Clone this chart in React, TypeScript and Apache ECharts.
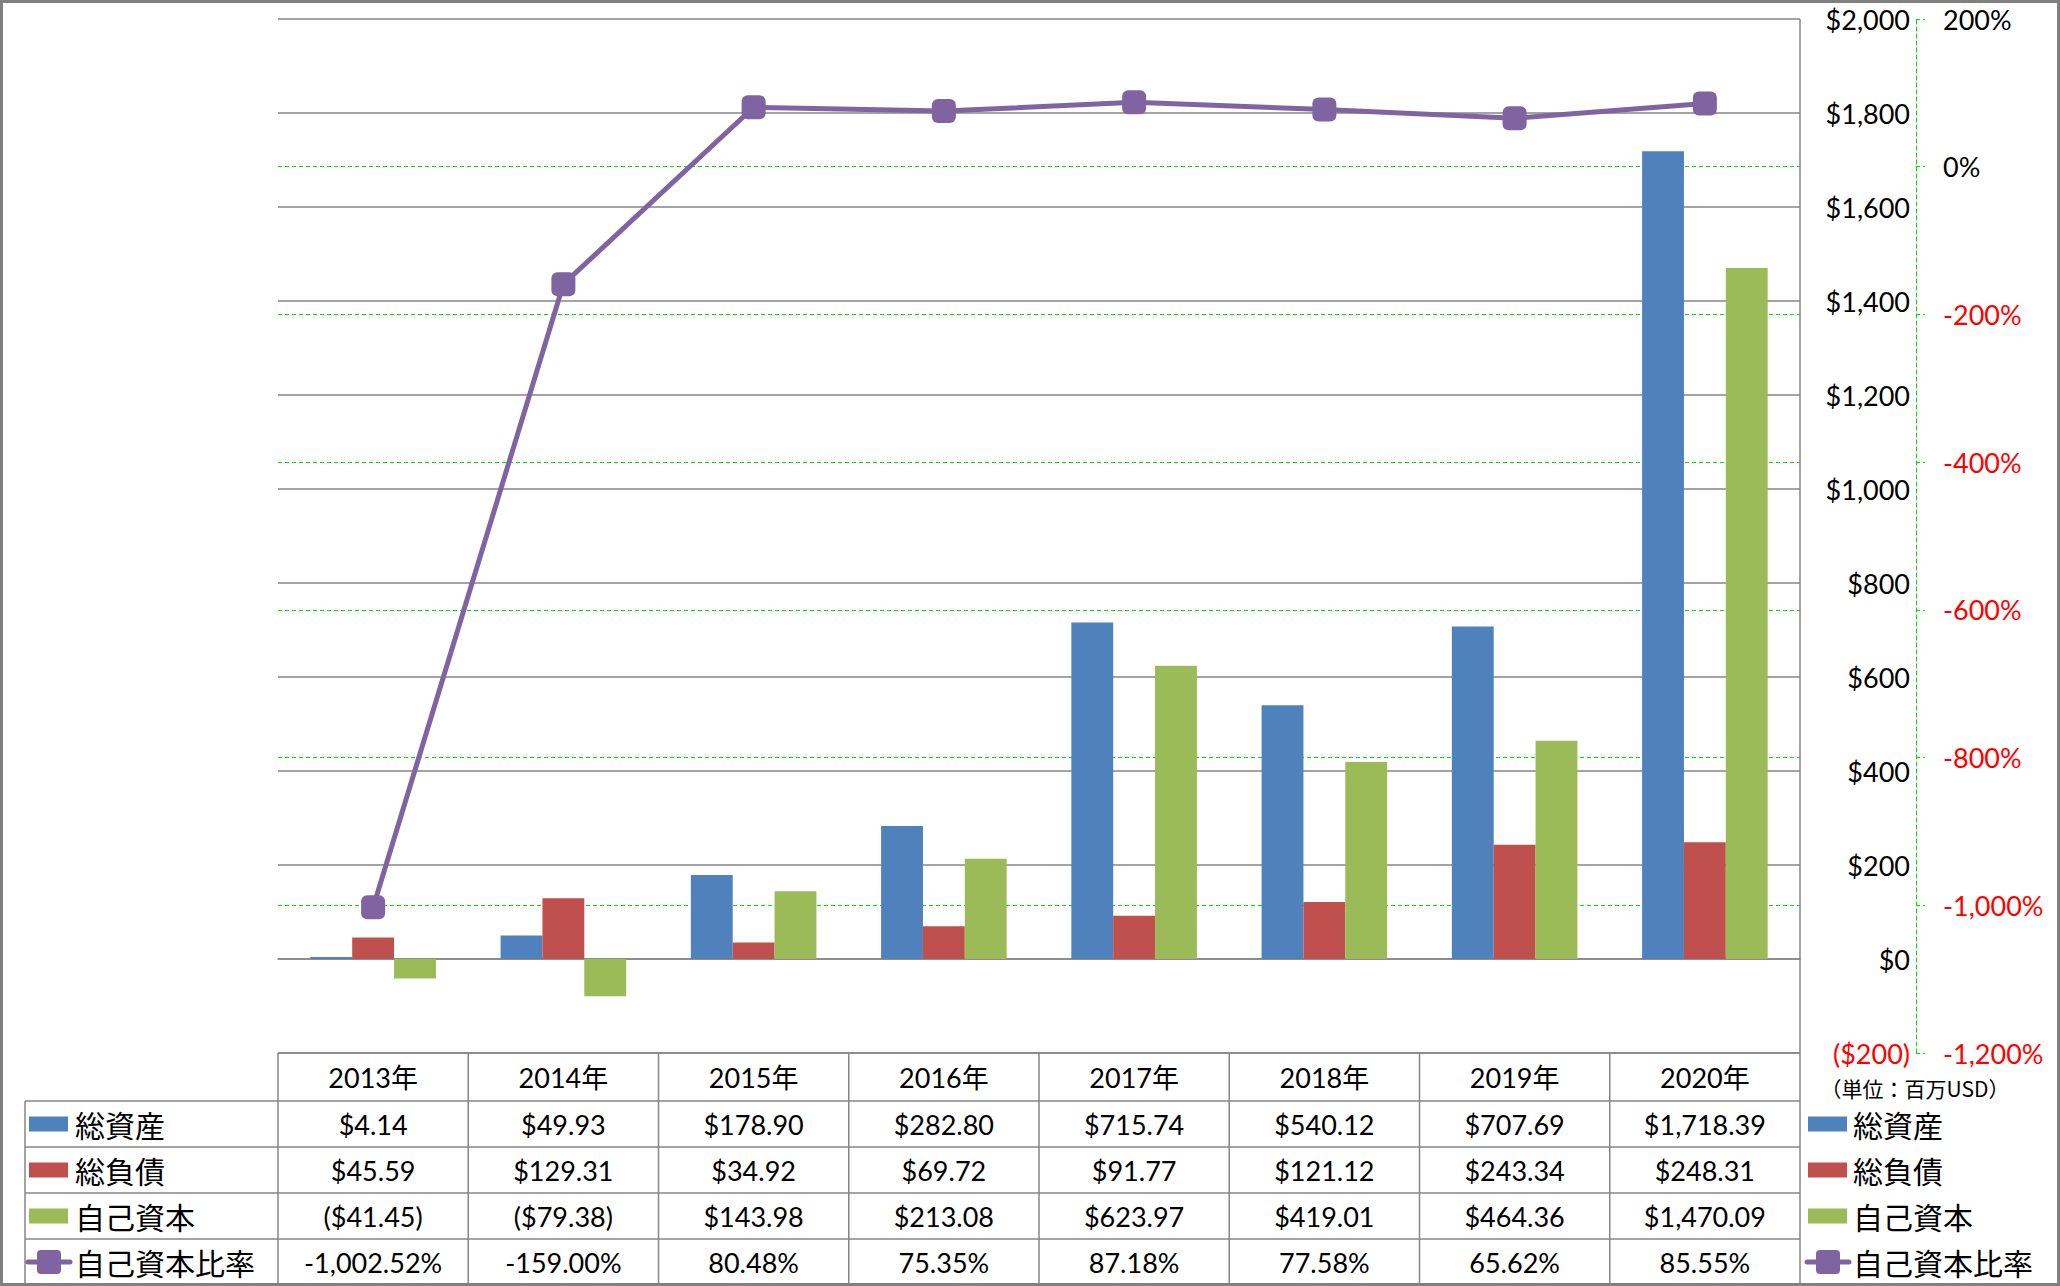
import React, { useEffect, useRef } from "react";
import * as echarts from "echarts";

const years = ["2013年", "2014年", "2015年", "2016年", "2017年", "2018年", "2019年", "2020年"];
const totalAssets = [4.14, 49.93, 178.9, 282.8, 715.74, 540.12, 707.69, 1718.39];
const totalLiabilities = [45.59, 129.31, 34.92, 69.72, 91.77, 121.12, 243.34, 248.31];
const equity = [-41.45, -79.38, 143.98, 213.08, 623.97, 419.01, 464.36, 1470.09];
const equityRatio = [-1002.52, -159.0, 80.48, 75.35, 87.18, 77.58, 65.62, 85.55];
const seriesNames = ["総資産", "総負債", "自己資本", "自己資本比率"];
const unitLabel = "（単位：百万USD）";

const W = 2060;
const H = 1286;
const GRID_LEFT = 278;
const GRID_RIGHT_X = 1800;
const GRID_TOP = 19;
const GRID_BOTTOM_Y = 1053;
const ROW_Y = [1053, 1101, 1147, 1193, 1239, 1285];
const TABLE_LEFT = 25;

const BLUE = "#4F81BD";
const RED = "#C0504D";
const GREEN = "#9BBB59";
const PURPLE = "#8064A2";
const GRID_GRAY = "#868686";
const DASH_GREEN = "#00E000";
const NUM_FONT = "Lato, 'Noto Sans CJK JP', sans-serif";
const CJK_FONT = "'Noto Sans CJK JP', sans-serif";

const fmtNum = (v: number, digits: number) =>
  Math.abs(v).toLocaleString("en-US", { minimumFractionDigits: digits, maximumFractionDigits: digits });
const fmtMoney = (v: number) => (v < 0 ? `($${fmtNum(v, 2)})` : `$${fmtNum(v, 2)}`);
const fmtPct = (v: number) => `${v < 0 ? "-" : ""}${fmtNum(v, 2)}%`;

export default function App() {
  const ref = useRef<HTMLDivElement>(null);
  useEffect(() => {
    document.body.style.margin = "0";
    document.body.style.overflow = "hidden";
    const chart = echarts.init(ref.current!, null, { renderer: "svg" });
    const option: any = {
      animation: false,
      backgroundColor: "#fff",
      grid: {
        left: GRID_LEFT,
        right: W - GRID_RIGHT_X,
        top: GRID_TOP,
        bottom: H - GRID_BOTTOM_Y,
        containLabel: false,
      },
      xAxis: {
        type: "category",
        data: years,
        axisLine: { show: true, onZero: true, lineStyle: { color: GRID_GRAY, width: 1.5 } },
        axisTick: { show: false },
        axisLabel: { show: false },
        splitLine: { show: false },
      },
      yAxis: [
        {
          type: "value",
          position: "right",
          min: -200,
          max: 2000,
          interval: 200,
          axisLine: { show: false },
          axisTick: { show: false },
          axisLabel: {
            margin: 110,
            align: "right",
            fontFamily: NUM_FONT,
            fontSize: 27,
            color: (v: any) => (Number(v) < 0 ? "#FF0000" : "#000000"),
            formatter: (v: number) => (v < 0 ? `($${fmtNum(v, 0)})` : `$${fmtNum(v, 0)}`),
          },
          splitLine: { show: true, lineStyle: { color: GRID_GRAY, width: 1.5 } },
        },
        {
          type: "value",
          position: "right",
          offset: 116,
          min: -1200,
          max: 200,
          interval: 200,
          axisLine: { show: true, lineStyle: { color: DASH_GREEN, type: [4, 3], width: 1 } },
          axisTick: { show: true, inside: false, length: 9, lineStyle: { color: DASH_GREEN, type: [4, 3], width: 1 } },
          axisLabel: {
            margin: 27,
            align: "left",
            fontFamily: NUM_FONT,
            fontSize: 27,
            color: (v: any) => (Number(v) < 0 ? "#FF0000" : "#000000"),
            formatter: (v: number) => `${v < 0 ? "-" : ""}${fmtNum(v, 0)}%`,
          },
          splitLine: {
            show: true,
            showMinLine: false,
            showMaxLine: false,
            lineStyle: { color: DASH_GREEN, type: [4, 3], width: 1 },
          },
        },
      ],
      series: [
        {
          name: seriesNames[0],
          type: "bar",
          data: totalAssets,
          itemStyle: { color: BLUE },
          barGap: "0%",
          barCategoryGap: "34%",
        },
        {
          name: seriesNames[1],
          type: "bar",
          data: totalLiabilities,
          itemStyle: { color: RED },
          barGap: "0%",
          barCategoryGap: "34%",
        },
        {
          name: seriesNames[2],
          type: "bar",
          data: equity,
          itemStyle: { color: GREEN },
          barGap: "0%",
          barCategoryGap: "34%",
        },
        {
          name: seriesNames[3],
          type: "line",
          yAxisIndex: 1,
          data: equityRatio,
          symbol: "roundRect",
          symbolSize: 24,
          itemStyle: { color: PURPLE },
          lineStyle: { color: PURPLE, width: 5 },
          z: 5,
        },
      ],
    };
    chart.setOption(option);

    const catW = (GRID_RIGHT_X - GRID_LEFT) / years.length;
    const xs = years.map((y) => chart.convertToPixel({ xAxisIndex: 0 }, y) as number);
    const els: any[] = [];
    const line = (x1: number, y1: number, x2: number, y2: number, color = GRID_GRAY, w = 1.5) =>
      els.push({ type: "line", silent: true, z: 50, shape: { x1, y1, x2, y2 }, style: { stroke: color, lineWidth: w } });
    const text = (t: string, x: number, y: number, font: string, size: number, align = "center", fill = "#000") =>
      els.push({
        type: "text",
        silent: true,
        z: 50,
        x,
        y,
        style: { text: t, fill, fontFamily: font, fontSize: size, align, verticalAlign: "middle" },
      });

    // table horizontal lines
    line(GRID_LEFT, ROW_Y[0], GRID_RIGHT_X, ROW_Y[0]);
    for (let r = 1; r < ROW_Y.length - 1; r++) line(TABLE_LEFT, ROW_Y[r], GRID_RIGHT_X, ROW_Y[r]);
    // table vertical lines
    line(TABLE_LEFT, ROW_Y[1], TABLE_LEFT, H);
    xs.forEach((x) => {
      line(x - catW / 2, ROW_Y[0], x - catW / 2, H);
    });
    line(GRID_RIGHT_X, GRID_TOP, GRID_RIGHT_X, H);

    // header
    years.forEach((y, i) => text(y, xs[i], (ROW_Y[0] + ROW_Y[1]) / 2, NUM_FONT, 27));
    const rows = [
      totalAssets.map(fmtMoney),
      totalLiabilities.map(fmtMoney),
      equity.map(fmtMoney),
      equityRatio.map(fmtPct),
    ];
    const colors = [BLUE, RED, GREEN, PURPLE];
    rows.forEach((vals, r) => {
      const cy = (ROW_Y[r + 1] + ROW_Y[r + 2]) / 2;
      vals.forEach((v, i) => text(v, xs[i], cy, NUM_FONT, 27));
      [
        { sx: 29, tx: 75 },
        { sx: 1808, tx: 1853 },
      ].forEach(({ sx, tx }) => {
        if (r < 3) {
          els.push({
            type: "rect",
            silent: true,
            z: 50,
            shape: { x: sx, y: cy - 7.5, width: 39, height: 15 },
            style: { fill: colors[r] },
          });
        } else {
          els.push({
            type: "line",
            silent: true,
            z: 50,
            shape: { x1: sx - 1, y1: cy, x2: sx + 41, y2: cy },
            style: { stroke: colors[r], lineWidth: 5, lineCap: "round" },
          });
          els.push({
            type: "rect",
            silent: true,
            z: 51,
            shape: { x: sx + 8, y: cy - 12, width: 24, height: 24, r: 4 },
            style: { fill: colors[r] },
          });
        }
        text(seriesNames[r], tx, cy, CJK_FONT, 30, "left");
      });
    });
    // unit label
    text(unitLabel, 1915, 1088, CJK_FONT, 21, "center");
    // outer border
    els.push({
      type: "rect",
      silent: true,
      z: 60,
      shape: { x: 1.5, y: 1.5, width: W - 3, height: H - 3 },
      style: { fill: "none", stroke: "#808080", lineWidth: 3 },
    });
    chart.setOption({ graphic: els });

    return () => chart.dispose();
  }, []);
  return <div ref={ref} style={{ width: W, height: H }} />;
}
